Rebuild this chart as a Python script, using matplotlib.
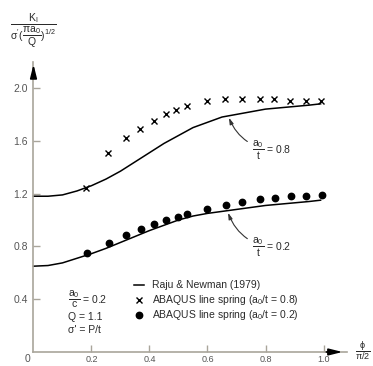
import matplotlib
matplotlib.use("Agg")
import matplotlib.pyplot as plt

plt.rcParams['font.family'] = ['Liberation Sans', 'DejaVu Sans']
plt.rcParams['mathtext.fontset'] = 'custom'
plt.rcParams['mathtext.rm'] = 'Liberation Sans'
plt.rcParams['mathtext.it'] = 'Liberation Sans'
plt.rcParams['mathtext.sf'] = 'Liberation Sans'

# Raju & Newman (1979) curves, x = phi/(pi/2)
curve_x = [0, 0.05, 0.1, 0.15, 0.2, 0.25, 0.3, 0.35, 0.4, 0.45, 0.5,
           0.55, 0.6, 0.65, 0.7, 0.75, 0.8, 0.85, 0.9, 0.95, 0.99]
curve_08 = [1.18, 1.18, 1.19, 1.22, 1.26, 1.31, 1.37, 1.44, 1.51, 1.58, 1.64,
            1.70, 1.74, 1.78, 1.80, 1.82, 1.84, 1.85, 1.86, 1.87, 1.88]
curve_02 = [0.65, 0.655, 0.675, 0.71, 0.745, 0.785, 0.83, 0.875, 0.92, 0.96, 1.0,
            1.03, 1.05, 1.065, 1.08, 1.095, 1.11, 1.12, 1.13, 1.14, 1.15]

# ABAQUS line spring results
cross_x = [0.18, 0.257, 0.32, 0.367, 0.415, 0.456, 0.49, 0.53, 0.60, 0.66,
           0.72, 0.78, 0.83, 0.885, 0.94, 0.99]
cross_y = [1.24, 1.51, 1.62, 1.69, 1.75, 1.80, 1.83, 1.86, 1.90, 1.92,
           1.92, 1.92, 1.915, 1.905, 1.905, 1.905]
dot_x = [0.183, 0.26, 0.32, 0.372, 0.415, 0.457, 0.50, 0.53, 0.60, 0.664,
         0.72, 0.78, 0.833, 0.888, 0.94, 0.994]
dot_y = [0.752, 0.823, 0.884, 0.929, 0.967, 1.0, 1.023, 1.043, 1.08, 1.11,
         1.14, 1.157, 1.17, 1.18, 1.185, 1.19]

xticks = [0.2, 0.4, 0.6, 0.8, 1.0]
xticklabels = ['0.2', '0.4', '0.6', '0.8', '1.0']
yticks = [0.4, 0.8, 1.2, 1.6, 2.0]
yticklabels = ['0.4', '0.8', '1.2', '1.6', '2.0']

txt = '#2a2a2a'
axc = '#a9a59b'

fig = plt.figure(figsize=(3.73, 3.66), dpi=100)
ax = fig.add_axes([0.0898, 0.0383, 0.8397, 0.7934])
ax.set_xlim(0, 1.08)
ax.set_ylim(0, 2.2)

for s in ['top', 'right']:
    ax.spines[s].set_visible(False)
for s in ['left', 'bottom']:
    ax.spines[s].set_color(axc)
    ax.spines[s].set_linewidth(1.2)

ax.set_xticks(xticks)
ax.set_xticklabels(xticklabels)
ax.set_yticks(yticks)
ax.set_yticklabels(yticklabels)
ax.tick_params(axis='both', direction='in', length=5, color=axc, width=1,
               labelcolor='#555555', labelsize=7.5)
ax.tick_params(axis='x', pad=2.5, labelsize=6.5)
ax.tick_params(axis='y', pad=4)

# axis arrows
ax.annotate('', xy=(1.075, 0), xytext=(1.0, 0),
            arrowprops=dict(arrowstyle='-|>,head_length=0.8,head_width=0.2',
                            color='black', lw=1.2), clip_on=False)
ax.annotate('', xy=(0, 2.2), xytext=(0, 2.1),
            arrowprops=dict(arrowstyle='-|>,head_length=0.8,head_width=0.2',
                            color='black', lw=1.2), clip_on=False)

ax.plot(curve_x, curve_08, color='black', lw=1.1, clip_on=False)
ax.plot(curve_x, curve_02, color='black', lw=1.1, clip_on=False)
ax.plot(cross_x, cross_y, 'x', color='black', ms=4.8, mew=1.0, clip_on=False)
ax.plot(dot_x, dot_y, 'o', color='black', ms=4.6, clip_on=False)

# curve annotations
ax.annotate(r'$\dfrac{\mathrm{a_0}}{\mathrm{t}}$ = 0.8', xy=(0.674, 1.775),
            xytext=(0.755, 1.53), fontsize=7.5, color=txt, va='center',
            arrowprops=dict(arrowstyle='-|>,head_length=0.5,head_width=0.15',
                            color='#333333', lw=0.8,
                            connectionstyle='arc3,rad=-0.3', shrinkA=2, shrinkB=0))
ax.annotate(r'$\dfrac{\mathrm{a_0}}{\mathrm{t}}$ = 0.2', xy=(0.671, 1.055),
            xytext=(0.755, 0.79), fontsize=7.5, color=txt, va='center',
            arrowprops=dict(arrowstyle='-|>,head_length=0.5,head_width=0.15',
                            color='#333333', lw=0.8,
                            connectionstyle='arc3,rad=-0.3', shrinkA=2, shrinkB=0))

# legend
ax.plot([0.348, 0.38], [0.508, 0.508], color='black', lw=1.1)
ax.plot([0.364], [0.394], 'x', color='black', ms=4.8, mew=1.0)
ax.plot([0.364], [0.28], 'o', color='black', ms=4.6)
ax.text(0.409, 0.508, 'Raju & Newman (1979)', fontsize=7.5, color=txt, va='center')
ax.text(0.409, 0.394, r'ABAQUS line spring (a$_0$/t = 0.8)', fontsize=7.5, color=txt, va='center')
ax.text(0.409, 0.28, r'ABAQUS line spring (a$_0$/t = 0.2)', fontsize=7.5, color=txt, va='center')

ax.text(0.12, 0.40, r'$\dfrac{\mathrm{a_0}}{\mathrm{c}}$ = 0.2', fontsize=7.5, color=txt, va='center')
ax.text(0.118, 0.265, 'Q = 1.1', fontsize=7.5, color=txt, va='center')
ax.text(0.118, 0.17, "σ' = P/t", fontsize=7.5, color=txt, va='center')

ax.text(-0.012, -0.012, '0', fontsize=7.5, color='#555555', ha='right', va='top')

fig.text(33 / 373, 1 - 31 / 366,
         r'$\dfrac{\mathrm{K_I}}{\sigma^{\prime}(\dfrac{\pi \mathrm{a_0}}{\mathrm{Q}})^{1/2}}$',
         fontsize=7.5, color=txt, ha='center', va='center')
fig.text(363 / 373, 1 - 351 / 366, r'$\dfrac{\phi}{\pi/2}$',
         fontsize=6.5, color=txt, ha='center', va='center')

fig.savefig('out.png', dpi=100)
